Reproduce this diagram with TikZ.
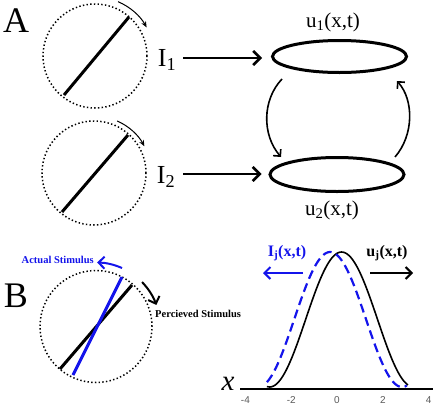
\documentclass[tikz,border=0pt]{standalone}
\usepackage{fontspec}
\setmainfont{Liberation Serif}
\newfontfamily\sansf{Liberation Sans}
\usetikzlibrary{arrows.meta,shapes.geometric}
\definecolor{stimblue}{RGB}{20,20,235}
\definecolor{tickgray}{RGB}{90,90,90}
\begin{document}
\begin{tikzpicture}[x=1pt,y=-1pt,
  dotcirc/.style={circle,draw,inner sep=0pt,line width=1.5pt,dash pattern=on 1.4pt off 2.3pt},
  bar/.style={line width=3pt},
  rotarrow/.style={line width=1pt,-{Stealth[length=6pt,width=5pt]}},
  bigarrow/.style={line width=2.6pt,-{Straight Barb[length=7pt,width=14pt,line width=2.6pt]}},
  midarrow/.style={line width=2pt,-{Straight Barb[length=6pt,width=12pt,line width=2pt]}},
  curvearrow/.style={line width=1.6pt,-{Straight Barb[length=5pt,width=10pt,line width=1.6pt]}},
  pop/.style={ellipse,draw,line width=3pt,inner sep=0pt},
  lbl/.style={inner sep=0pt,font=\fontsize{21}{24}\selectfont},
  inlbl/.style={inner sep=0pt,font=\fontsize{26}{30}\selectfont},
  panel/.style={inner sep=0pt,font=\fontsize{36}{40}\selectfont},
  tick/.style={inner sep=0pt,text=tickgray,font=\sansf\fontsize{10}{11}\selectfont},
]
\useasboundingbox (0,0) rectangle (436,407);

% Panel A
\node[panel] (A) at (16,21) {A};
\node[dotcirc,minimum size=104pt] (c1) at (95,56) {};
\draw[bar] (64,95) -- (129,17);
\draw[rotarrow] (c1.center) ++(-67:59) arc[start angle=-67,end angle=-29,radius=59];

\node[dotcirc,minimum size=104pt] (c2) at (94,173) {};
\draw[bar] (62,212) -- (128,135);
\draw[rotarrow] (c2.center) ++(-66:57) arc[start angle=-66,end angle=-28,radius=57];

\node[inlbl] (I1) at (167,60) {I\textsubscript{1}};
\node[inlbl] (I2) at (166,177) {I\textsubscript{2}};

\node[pop,minimum width=134pt,minimum height=32pt] (e1) at (339.5,56.5) {};
\node[pop,minimum width=134pt,minimum height=34pt] (e2) at (337,174.5) {};

\node[lbl] (u1) at (333,22) {u\textsubscript{1}(x,t)};
\node[lbl] (u2) at (332,210) {u\textsubscript{2}(x,t)};

\coordinate (a1s) at (183,58);
\draw[bigarrow,shorten >=9pt] (a1s) -- (a1s -| e1.west);
\coordinate (a2s) at (183,174);
\draw[bigarrow,shorten >=7pt] (a2s) -- (a2s -| e2.west);

\coordinate (l1) at (282,79);
\coordinate (l2) at (281,157);
\draw[curvearrow] (l1) .. controls (262,100) and (262,135) .. (l2);
\coordinate (r1) at (395,157);
\coordinate (r2) at (397,81);
\draw[curvearrow] (r1) .. controls (414,135) and (414,100) .. (r2);

% Panel B
\node[panel] (B) at (16,296) {B};
\node[dotcirc,minimum size=112pt] (c3) at (96,326.5) {};
\draw[bar] (60,369) -- (132,285);
\draw[bar,stimblue] (73,375) -- (122,277);
\draw[midarrow,stimblue] (c3.center) ++(-66:64) arc[start angle=-66,end angle=-89,radius=64];
\draw[midarrow] (c3.center) ++(-44:64) arc[start angle=-44,end angle=-20,radius=65];
\node[inner sep=0pt,anchor=east,text=stimblue,font=\bfseries\fontsize{10.5}{12}\selectfont] (act) at (94,260) {Actual Stimulus};
\node[inner sep=0pt,anchor=west,font=\bfseries\fontsize{10.5}{12}\selectfont] (per) at (155,314) {Percieved Stimulus};

% Graph
\coordinate (ax0) at (240,389);
\coordinate (ax1) at (433,389);
\draw[line width=1.5pt] (ax0) -- (ax1);
\node[inner sep=0pt,font=\itshape\fontsize{29}{30}\selectfont] (xl) at (228,384) {x};
\foreach \v in {-4,-2,0,2,4}{
  \node[tick] (t\v) at ({337+22.9*\v},400) {\v};
}
\draw[line width=1.6pt] plot[domain=-3.06:3.1,samples=90,smooth] ({337+22.9*\x},{387-67.5*(1+cos(deg(\x-0.2)))});
\draw[line width=2.2pt,stimblue,dash pattern=on 9pt off 5pt] plot[domain=-3.06:3.05,samples=90,smooth] ({337+22.9*\x},{387-67.5*(1+cos(deg(\x+0.3)))});

\node[inner sep=0pt,text=stimblue,font=\bfseries\fontsize{16}{18}\selectfont] (Ij) at (287,253) {I\textsubscript{j}(x,t)};
\node[inner sep=0pt,font=\bfseries\fontsize{16}{18}\selectfont] (uj) at (387,253) {u\textsubscript{j}(x,t)};
\coordinate (bl0) at (303,273);
\coordinate (bl1) at (263,273);
\draw[midarrow,stimblue] (bl0) -- (bl1);
\coordinate (br0) at (370,273);
\coordinate (br1) at (413,273);
\draw[midarrow] (br0) -- (br1);
\end{tikzpicture}
\end{document}
